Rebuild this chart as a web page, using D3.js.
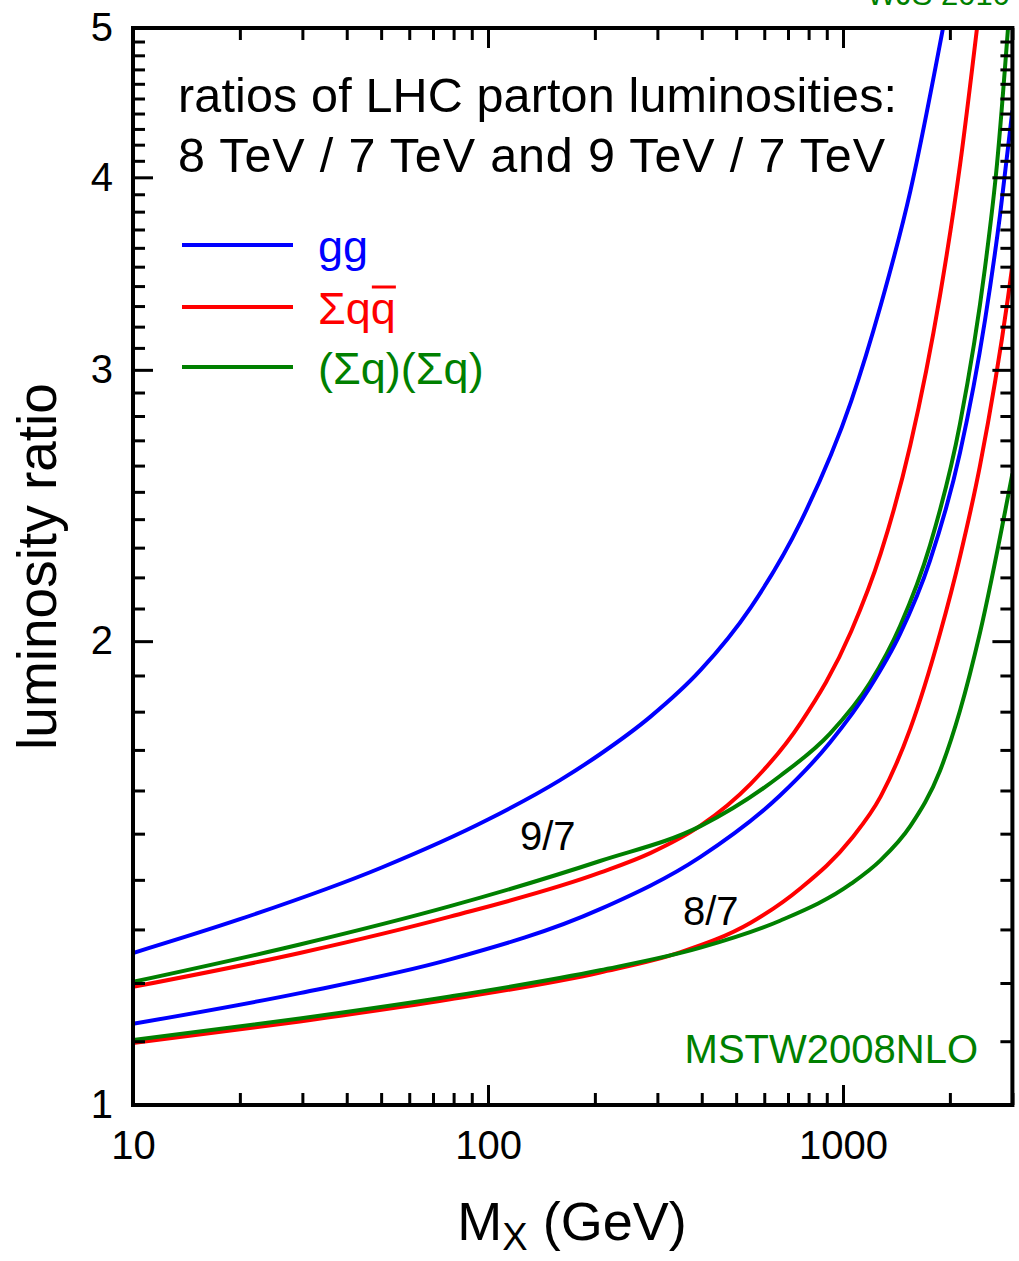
<!DOCTYPE html>
<html>
<head>
<meta charset="utf-8">
<script src="https://cdn.jsdelivr.net/npm/d3@7"></script>
<style>
  html, body { margin: 0; padding: 0; background: #fff; }
  svg { display: block; }
  text { font-family: "Liberation Sans", Arial, Helvetica, sans-serif; }
</style>
</head>
<body>
<svg id="chart" width="1019" height="1261"></svg>
<script>
// Parton luminosity ratios vs invariant mass M_X (GeV), MSTW2008NLO.
// Each series: [M_X, ratio] pairs.
const gg_9over7 = [[10,1.255],[20,1.32],[50,1.4255],[100,1.532],[159.6,1.625],[206.8,1.689],[286.4,1.786],[396.7,1.915],[549.4,2.103],[761,2.392],[1054,2.862],[1277,3.304],[1547,3.917],[1913,5.0]];
const qqbar_9over7 = [[10,1.193],[29.5,1.255],[78.2,1.325],[206.8,1.415],[286.4,1.457],[396.7,1.518],[549.4,1.616],[761,1.771],[1054,2.029],[1277,2.28],[1547,2.68],[1876,3.353],[2136,4.074],[2385,5.0]];
const qq_9over7 = [[10,1.202],[29.5,1.271],[78.2,1.346],[206.8,1.44],[396.7,1.517],[664.5,1.635],[919,1.742],[1192,1.88],[1447,2.045],[1758,2.308],[2136,2.768],[2512,3.496],[2716,4.084],[2916,5.0]];
const gg_8over7 = [[10,1.129],[29.5,1.182],[78.2,1.243],[206.8,1.34],[396.7,1.449],[664.5,1.588],[919,1.719],[1192,1.867],[1447,2.021],[1758,2.256],[2136,2.651],[2512,3.232],[2769,3.781],[3000,4.42]];
const qqbar_8over7 = [[10,1.097],[29.5,1.133],[78.2,1.171],[206.8,1.219],[347.4,1.256],[549.4,1.313],[761,1.383],[1054,1.488],[1277,1.586],[1547,1.755],[1876,2.023],[2136,2.27],[2432,2.601],[2916,3.343],[3000,3.507]];
const qq_8over7 = [[10,1.102],[29.5,1.138],[78.2,1.176],[206.8,1.223],[396.7,1.265],[664.5,1.317],[1054,1.392],[1277,1.442],[1547,1.517],[1876,1.648],[2136,1.803],[2432,2.026],[3000,2.569]];

const xMajorTicks = [10, 100, 1000];
const xMinorTicks = [20,30,40,50,60,70,80,90,200,300,400,500,600,700,800,900,2000,3000];
const yMajorTicks = [1, 2, 3, 4, 5];
const yMinorTicks = d3.range(11, 50).filter(v => v % 10 !== 0).map(v => v / 10);

const headingLines = ["ratios of LHC parton luminosities:", "8 TeV / 7 TeV and 9 TeV / 7 TeV"];
const legendLabels = ["gg", "Σqq", "(Σq)(Σq)"];
const colors = { gg: "#0000ff", qqbar: "#ff0000", qq: "#008000" };

const series = [
  { data: gg_9over7, color: colors.gg },
  { data: qqbar_9over7, color: colors.qqbar },
  { data: qq_9over7, color: colors.qq },
  { data: gg_8over7, color: colors.gg },
  { data: qqbar_8over7, color: colors.qqbar },
  { data: qq_8over7, color: colors.qq }
];

const plotL = 133, plotR = 1012.4, plotT = 28, plotB = 1105;
const svg = d3.select("#chart");
const font = '"Liberation Sans", Arial, Helvetica, sans-serif';

const x = d3.scaleLog().domain([10, 3000]).range([plotL, plotR]);
const y = d3.scaleLog().domain([1, 5]).range([plotB, plotT]);

// clip region for curves
svg.append("defs").append("clipPath").attr("id", "plotClip")
  .append("rect").attr("x", plotL).attr("y", plotT)
  .attr("width", plotR - plotL).attr("height", plotB - plotT);

const line = d3.line()
  .x(d => x(d[0]))
  .y(d => y(d[1]))
  .curve(d3.curveMonotoneX);

const curves = svg.append("g").attr("clip-path", "url(#plotClip)");
series.forEach(s => {
  curves.append("path")
    .attr("d", line(s.data))
    .attr("fill", "none")
    .attr("stroke", s.color)
    .attr("stroke-width", 4);
});

// axes: all ticks point into the frame
function styleAxis(g) {
  g.select(".domain").remove();
  g.selectAll(".tick line").attr("stroke", "#000").attr("stroke-width", 3);
  g.selectAll(".tick text").attr("fill", "#000").attr("font-family", font).attr("font-size", 40);
}

const fmt = d3.format("d");
svg.append("g").attr("transform", `translate(0,${plotB})`)
  .call(d3.axisBottom(x).tickValues(xMinorTicks).tickSizeInner(-12).tickSizeOuter(0).tickFormat(""))
  .call(styleAxis);
svg.append("g").attr("transform", `translate(0,${plotB})`)
  .call(d3.axisBottom(x).tickValues(xMajorTicks).tickSizeInner(-20).tickSizeOuter(0).tickPadding(26).tickFormat(fmt))
  .call(styleAxis);
svg.append("g").attr("transform", `translate(0,${plotT})`)
  .call(d3.axisTop(x).tickValues(xMinorTicks).tickSizeInner(-12).tickSizeOuter(0).tickFormat(""))
  .call(styleAxis);
svg.append("g").attr("transform", `translate(0,${plotT})`)
  .call(d3.axisTop(x).tickValues(xMajorTicks).tickSizeInner(-20).tickSizeOuter(0).tickFormat(""))
  .call(styleAxis);

svg.append("g").attr("transform", `translate(${plotL},0)`)
  .call(d3.axisLeft(y).tickValues(yMinorTicks).tickSizeInner(-12).tickSizeOuter(0).tickFormat(""))
  .call(styleAxis);
svg.append("g").attr("transform", `translate(${plotL},0)`)
  .call(d3.axisLeft(y).tickValues(yMajorTicks).tickSizeInner(-20).tickSizeOuter(0).tickPadding(20).tickFormat(fmt))
  .call(styleAxis);
svg.append("g").attr("transform", `translate(${plotR},0)`)
  .call(d3.axisRight(y).tickValues(yMinorTicks).tickSizeInner(-12).tickSizeOuter(0).tickFormat(""))
  .call(styleAxis);
svg.append("g").attr("transform", `translate(${plotR},0)`)
  .call(d3.axisRight(y).tickValues(yMajorTicks).tickSizeInner(-20).tickSizeOuter(0).tickFormat(""))
  .call(styleAxis);

// frame
svg.append("rect")
  .attr("x", plotL).attr("y", plotT)
  .attr("width", plotR - plotL).attr("height", plotB - plotT)
  .attr("fill", "none").attr("stroke", "#000").attr("stroke-width", 4);

// heading
const heading = svg.append("text").attr("font-size", 48.5).attr("fill", "#000");
heading.append("tspan").attr("x", 178).attr("y", 112)
  .attr("textLength", 719).attr("lengthAdjust", "spacing").text(headingLines[0]);
heading.append("tspan").attr("x", 178).attr("y", 172)
  .attr("textLength", 707).attr("lengthAdjust", "spacing").text(headingLines[1]);

// legend
const legendColors = [colors.gg, colors.qqbar, colors.qq];
const legendY = [245, 307, 367];
legendLabels.forEach((lab, i) => {
  svg.append("line")
    .attr("x1", 182).attr("x2", 293)
    .attr("y1", legendY[i]).attr("y2", legendY[i])
    .attr("stroke", legendColors[i]).attr("stroke-width", 4);
  const t = svg.append("text").attr("x", 318).attr("y", legendY[i] + 17)
    .attr("font-size", 45).attr("fill", legendColors[i]).text(lab);
  if (i === 1) {
    // bar over the antiquark (last character)
    const node = t.node();
    const n = lab.length - 1;
    const s = node.getStartPositionOfChar(n);
    const e = node.getEndPositionOfChar(n);
    svg.append("line")
      .attr("x1", s.x + 1).attr("x2", e.x)
      .attr("y1", legendY[i] - 20).attr("y2", legendY[i] - 20)
      .attr("stroke", legendColors[i]).attr("stroke-width", 3);
  }
});

// curve labels
svg.append("text").attr("x", 520).attr("y", 850).attr("font-size", 40).attr("fill", "#000").text("9/7");
svg.append("text").attr("x", 683).attr("y", 925).attr("font-size", 40).attr("fill", "#000").text("8/7");

svg.append("text").attr("x", 978).attr("y", 1063).attr("text-anchor", "end")
  .attr("font-size", 40).attr("fill", colors.qq).text("MSTW2008NLO");
svg.append("text").attr("x", 1010).attr("y", 5).attr("text-anchor", "end")
  .attr("font-size", 31).attr("fill", colors.qq).text("WJS 2010");

// axis titles
const xTitle = svg.append("text").attr("x", 572).attr("y", 1240)
  .attr("text-anchor", "middle").attr("font-size", 54).attr("fill", "#000");
xTitle.append("tspan").text("M");
xTitle.append("tspan").attr("font-size", 38).attr("dy", 10).text("X");
xTitle.append("tspan").attr("dy", -10).text(" (GeV)");

svg.append("text")
  .attr("transform", `translate(56,${(plotT + plotB) / 2}) rotate(-90)`)
  .attr("text-anchor", "middle").attr("font-size", 55).attr("fill", "#000")
  .text("luminosity ratio");
</script>
</body>
</html>
